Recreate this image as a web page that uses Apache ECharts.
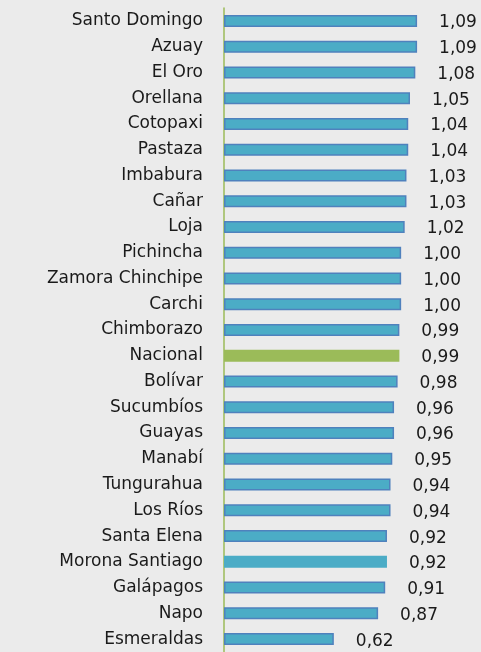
<!DOCTYPE html>
<html>
<head>
<meta charset="utf-8">
<script src="https://cdn.jsdelivr.net/npm/echarts@6/dist/echarts.min.js"></script>
<style>
  html, body { margin: 0; padding: 0; background: #ebebeb; }
  #main { width: 481px; height: 652px; }
</style>
</head>
<body>
<div id="main"></div>
<script>
const provincias = [
  'Santo Domingo', 'Azuay', 'El Oro', 'Orellana', 'Cotopaxi', 'Pastaza', 'Imbabura',
  'Cañar', 'Loja', 'Pichincha', 'Zamora Chinchipe', 'Carchi', 'Chimborazo', 'Nacional',
  'Bolívar', 'Sucumbíos', 'Guayas', 'Manabí', 'Tungurahua', 'Los Ríos', 'Santa Elena',
  'Morona Santiago', 'Galápagos', 'Napo', 'Esmeraldas'
]
const valores = [
  1.09, 1.09, 1.08, 1.05, 1.04, 1.04, 1.03,
  1.03, 1.02, 1.00, 1.00, 1.00, 0.99, 0.99,
  0.98, 0.96, 0.96, 0.95, 0.94, 0.94, 0.92,
  0.92, 0.91, 0.87, 0.62
]

const fontFamily = 'DejaVu Sans'

const data = valores.map((v, i) => {
  const name = provincias[i]
  if (name === 'Nacional') {
    return { value: v, itemStyle: { color: '#9bbb59', borderWidth: 0 } }
  }
  if (name === 'Morona Santiago') {
    return { value: v, itemStyle: { color: '#4bacc6', borderWidth: 0 } }
  }
  return v
})

const chart = echarts.init(document.getElementById('main'))

const option = {
  backgroundColor: '#ebebeb',
  animation: false,
  grid: { left: 224, top: 8, width: 248, height: 645 },
  xAxis: {
    type: 'value',
    min: 0,
    max: 1.4,
    show: false
  },
  yAxis: {
    type: 'category',
    data: provincias,
    inverse: true,
    axisLine: { lineStyle: { color: '#9bbb59', width: 1.5 } },
    axisTick: { show: false },
    axisLabel: {
      margin: 21,
      color: '#1a1a1a',
      fontSize: 17,
      fontFamily: fontFamily
    }
  },
  series: [
    {
      type: 'bar',
      data: data,
      barWidth: 12,
      itemStyle: {
        color: '#4bacc6',
        borderColor: '#4f81bd',
        borderWidth: 1.5
      },
      label: {
        show: true,
        position: 'right',
        distance: 22,
        offset: [0, 2],
        color: '#1a1a1a',
        fontSize: 17,
        fontFamily: fontFamily,
        formatter: p => p.value.toFixed(2).replace('.', ',')
      }
    }
  ]
}

chart.setOption(option)
window.addEventListener('resize', () => {
  chart.resize()
})
</script>
</body>
</html>
